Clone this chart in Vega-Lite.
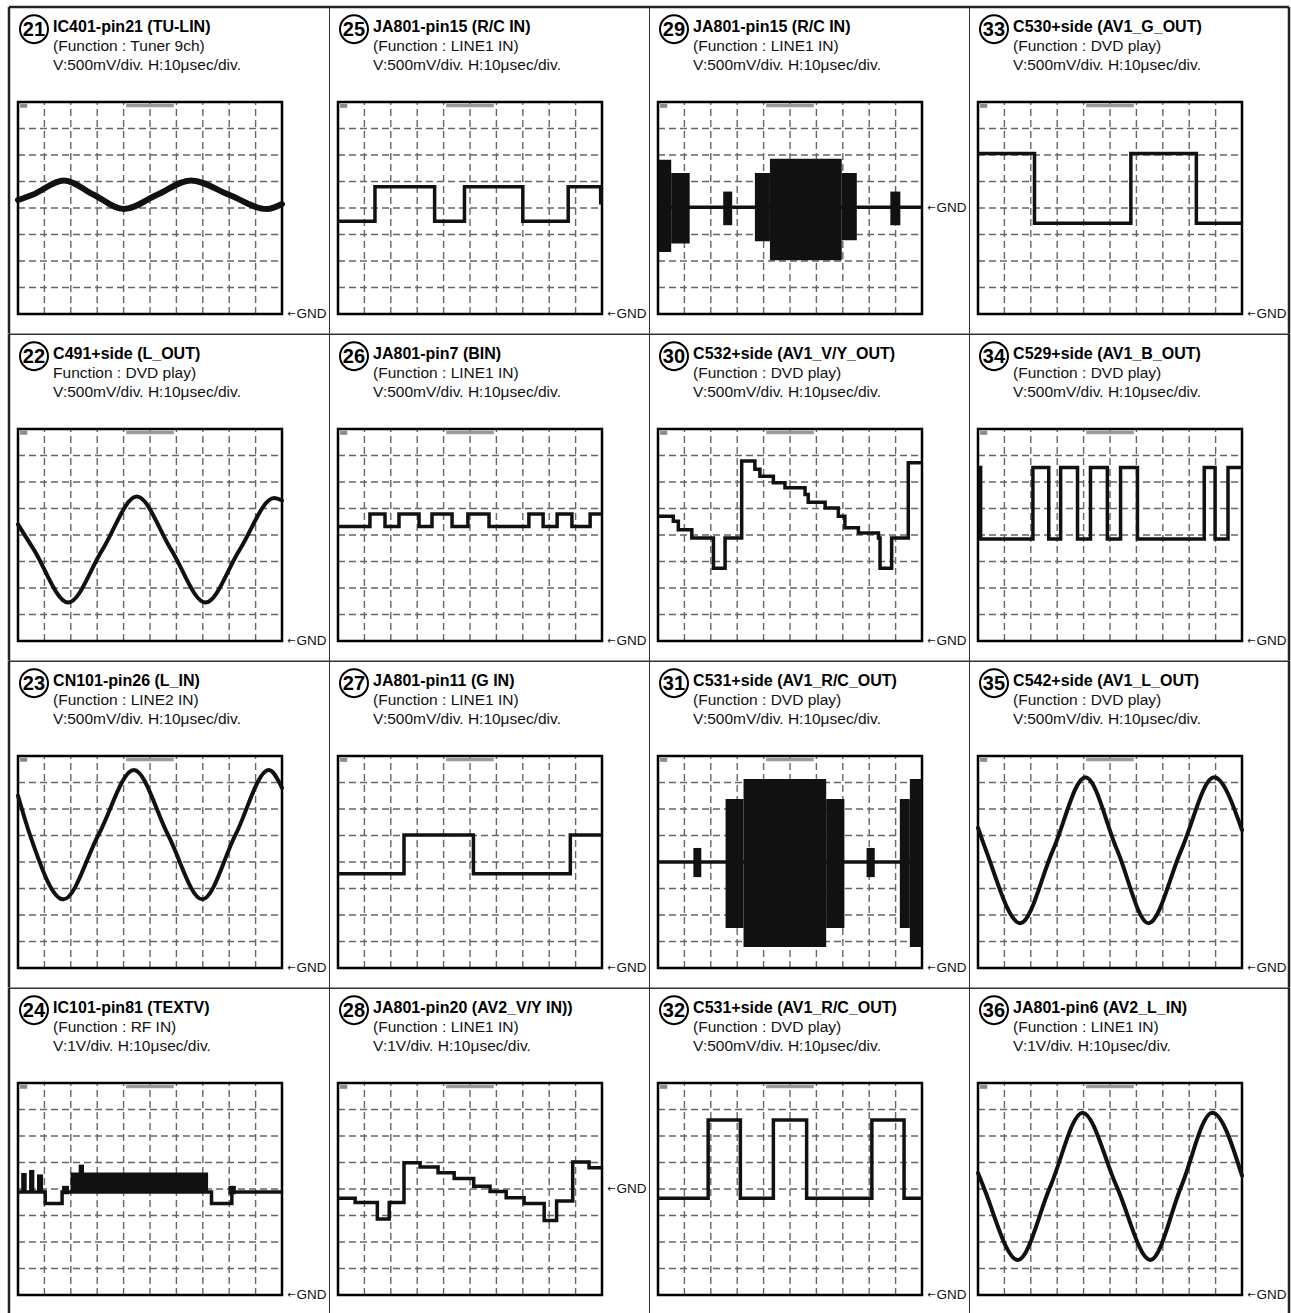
{
"$schema":"https://vega.github.io/schema/vega-lite/v6.json",
"background":"white",
"padding":{"left":5,"top":5,"right":0,"bottom":0},
"bounds":"flush",
"data":{"values":[
{"k":"i","p":21,"n":"21","t1":"IC401-pin21 (TU-LIN)","t2":"(Function : Tuner 9ch)","t3":"V:500mV/div. H:10μsec/div.","g":0},
{"k":"i","p":22,"n":"22","t1":"C491+side (L_OUT)","t2":"Function : DVD play)","t3":"V:500mV/div. H:10μsec/div.","g":0},
{"k":"i","p":23,"n":"23","t1":"CN101-pin26 (L_IN)","t2":"(Function : LINE2 IN)","t3":"V:500mV/div. H:10μsec/div.","g":0},
{"k":"i","p":24,"n":"24","t1":"IC101-pin81 (TEXTV)","t2":"(Function : RF IN)","t3":"V:1V/div. H:10μsec/div.","g":0},
{"k":"i","p":25,"n":"25","t1":"JA801-pin15 (R/C IN)","t2":"(Function : LINE1 IN)","t3":"V:500mV/div. H:10μsec/div.","g":0},
{"k":"i","p":26,"n":"26","t1":"JA801-pin7 (BIN)","t2":"(Function : LINE1 IN)","t3":"V:500mV/div. H:10μsec/div.","g":0},
{"k":"i","p":27,"n":"27","t1":"JA801-pin11 (G IN)","t2":"(Function : LINE1 IN)","t3":"V:500mV/div. H:10μsec/div.","g":0},
{"k":"i","p":28,"n":"28","t1":"JA801-pin20 (AV2_V/Y IN))","t2":"(Function : LINE1 IN)","t3":"V:1V/div. H:10μsec/div.","g":4},
{"k":"i","p":29,"n":"29","t1":"JA801-pin15 (R/C IN)","t2":"(Function : LINE1 IN)","t3":"V:500mV/div. H:10μsec/div.","g":4},
{"k":"i","p":30,"n":"30","t1":"C532+side (AV1_V/Y_OUT)","t2":"(Function : DVD play)","t3":"V:500mV/div. H:10μsec/div.","g":0},
{"k":"i","p":31,"n":"31","t1":"C531+side (AV1_R/C_OUT)","t2":"(Function : DVD play)","t3":"V:500mV/div. H:10μsec/div.","g":0},
{"k":"i","p":32,"n":"32","t1":"C531+side (AV1_R/C_OUT)","t2":"(Function : DVD play)","t3":"V:500mV/div. H:10μsec/div.","g":0},
{"k":"i","p":33,"n":"33","t1":"C530+side (AV1_G_OUT)","t2":"(Function : DVD play)","t3":"V:500mV/div. H:10μsec/div.","g":0},
{"k":"i","p":34,"n":"34","t1":"C529+side (AV1_B_OUT)","t2":"(Function : DVD play)","t3":"V:500mV/div. H:10μsec/div.","g":0},
{"k":"i","p":35,"n":"35","t1":"C542+side (AV1_L_OUT)","t2":"(Function : DVD play)","t3":"V:500mV/div. H:10μsec/div.","g":0},
{"k":"i","p":36,"n":"36","t1":"JA801-pin6 (AV2_L_IN)","t2":"(Function : LINE1 IN)","t3":"V:1V/div. H:10μsec/div.","g":0},

{"k":"s","p":21,"x":0,"y":4.3},{"k":"s","p":21,"x":0.55,"y":4.5},{"k":"s","p":21,"x":1.74,"y":5.04},{"k":"s","p":21,"x":2.87,"y":4.5},{"k":"s","p":21,"x":4.0,"y":3.96},{"k":"s","p":21,"x":5.27,"y":4.5},{"k":"s","p":21,"x":6.55,"y":5.04},{"k":"s","p":21,"x":7.99,"y":4.5},{"k":"s","p":21,"x":9.43,"y":3.96},{"k":"s","p":21,"x":10,"y":4.15},
{"k":"s","p":22,"x":0,"y":4.4},{"k":"s","p":22,"x":0.6,"y":3.45},{"k":"s","p":22,"x":1.9,"y":1.45},{"k":"s","p":22,"x":3.2,"y":3.45},{"k":"s","p":22,"x":4.5,"y":5.45},{"k":"s","p":22,"x":5.8,"y":3.45},{"k":"s","p":22,"x":7.1,"y":1.45},{"k":"s","p":22,"x":8.4,"y":3.45},{"k":"s","p":22,"x":9.7,"y":5.4},{"k":"s","p":22,"x":10,"y":5.3},
{"k":"s","p":23,"x":0,"y":6.5},{"k":"s","p":23,"x":0.45,"y":5.03},{"k":"s","p":23,"x":1.72,"y":2.59},{"k":"s","p":23,"x":3.05,"y":5.03},{"k":"s","p":23,"x":4.39,"y":7.47},{"k":"s","p":23,"x":5.68,"y":5.03},{"k":"s","p":23,"x":6.98,"y":2.59},{"k":"s","p":23,"x":8.24,"y":5.03},{"k":"s","p":23,"x":9.5,"y":7.47},{"k":"s","p":23,"x":10,"y":6.8},
{"k":"s","p":35,"x":0,"y":5.29},{"k":"s","p":35,"x":0.3,"y":4.45},{"k":"s","p":35,"x":1.6,"y":1.69},{"k":"s","p":35,"x":2.84,"y":4.45},{"k":"s","p":35,"x":4.07,"y":7.2},{"k":"s","p":35,"x":5.27,"y":4.45},{"k":"s","p":35,"x":6.46,"y":1.69},{"k":"s","p":35,"x":7.7,"y":4.45},{"k":"s","p":35,"x":8.94,"y":7.2},{"k":"s","p":35,"x":10,"y":5.2},
{"k":"s","p":36,"x":0,"y":4.6},{"k":"s","p":36,"x":0.2,"y":4.1},{"k":"s","p":36,"x":1.51,"y":1.32},{"k":"s","p":36,"x":2.74,"y":4.1},{"k":"s","p":36,"x":3.96,"y":6.88},{"k":"s","p":36,"x":5.25,"y":4.1},{"k":"s","p":36,"x":6.53,"y":1.32},{"k":"s","p":36,"x":7.7,"y":4.1},{"k":"s","p":36,"x":8.87,"y":6.88},{"k":"s","p":36,"x":10,"y":4.5},

{"k":"t","p":24,"x":0,"y":3.89},{"k":"t","p":24,"x":1.03,"y":3.45},{"k":"t","p":24,"x":1.67,"y":3.89},{"k":"t","p":24,"x":7.33,"y":3.45},{"k":"t","p":24,"x":8.1,"y":3.89},{"k":"t","p":24,"x":10,"y":3.89},
{"k":"t","p":25,"x":0,"y":3.5},{"k":"t","p":25,"x":1.4,"y":4.8},{"k":"t","p":25,"x":3.66,"y":3.5},{"k":"t","p":25,"x":4.79,"y":4.8},{"k":"t","p":25,"x":7.0,"y":3.5},{"k":"t","p":25,"x":8.72,"y":4.8},{"k":"t","p":25,"x":9.95,"y":4.2},{"k":"t","p":25,"x":10,"y":4.2},
{"k":"t","p":26,"x":0,"y":4.32},{"k":"t","p":26,"x":1.21,"y":4.79},{"k":"t","p":26,"x":1.78,"y":4.32},{"k":"t","p":26,"x":2.31,"y":4.79},{"k":"t","p":26,"x":3.07,"y":4.32},{"k":"t","p":26,"x":3.56,"y":4.79},{"k":"t","p":26,"x":4.32,"y":4.32},{"k":"t","p":26,"x":4.92,"y":4.79},{"k":"t","p":26,"x":5.72,"y":4.32},{"k":"t","p":26,"x":7.23,"y":4.79},{"k":"t","p":26,"x":7.77,"y":4.32},{"k":"t","p":26,"x":8.3,"y":4.79},{"k":"t","p":26,"x":8.86,"y":4.32},{"k":"t","p":26,"x":9.55,"y":4.79},{"k":"t","p":26,"x":10,"y":4.79},
{"k":"t","p":27,"x":0,"y":3.56},{"k":"t","p":27,"x":2.5,"y":5.02},{"k":"t","p":27,"x":5.13,"y":3.56},{"k":"t","p":27,"x":8.8,"y":5.02},{"k":"t","p":27,"x":10,"y":5.02},
{"k":"t","p":28,"x":0,"y":3.65},{"k":"t","p":28,"x":0.65,"y":3.49},{"k":"t","p":28,"x":1.49,"y":2.87},{"k":"t","p":28,"x":1.94,"y":3.49},{"k":"t","p":28,"x":2.5,"y":4.99},{"k":"t","p":28,"x":3.11,"y":4.83},{"k":"t","p":28,"x":3.79,"y":4.61},{"k":"t","p":28,"x":4.4,"y":4.4},{"k":"t","p":28,"x":5.14,"y":4.1},{"k":"t","p":28,"x":5.76,"y":3.91},{"k":"t","p":28,"x":6.37,"y":3.67},{"k":"t","p":28,"x":7.05,"y":3.45},{"k":"t","p":28,"x":7.81,"y":2.81},{"k":"t","p":28,"x":8.28,"y":3.55},{"k":"t","p":28,"x":8.89,"y":5.02},{"k":"t","p":28,"x":9.51,"y":4.8},{"k":"t","p":28,"x":10,"y":4.8},
{"k":"t","p":29,"x":0,"y":4.03},{"k":"t","p":29,"x":10,"y":4.03},
{"k":"t","p":30,"x":0,"y":4.71},{"k":"t","p":30,"x":0.58,"y":4.52},{"k":"t","p":30,"x":0.77,"y":4.2},{"k":"t","p":30,"x":1.28,"y":3.89},{"k":"t","p":30,"x":2.1,"y":2.75},{"k":"t","p":30,"x":2.54,"y":3.89},{"k":"t","p":30,"x":3.17,"y":6.79},{"k":"t","p":30,"x":3.67,"y":6.48},{"k":"t","p":30,"x":3.86,"y":6.22},{"k":"t","p":30,"x":4.37,"y":5.97},{"k":"t","p":30,"x":4.81,"y":5.78},{"k":"t","p":30,"x":5.57,"y":5.53},{"k":"t","p":30,"x":5.69,"y":5.24},{"k":"t","p":30,"x":6.33,"y":5.02},{"k":"t","p":30,"x":6.83,"y":4.71},{"k":"t","p":30,"x":7.08,"y":4.27},{"k":"t","p":30,"x":7.59,"y":4.08},{"k":"t","p":30,"x":8.35,"y":3.89},{"k":"t","p":30,"x":8.41,"y":2.75},{"k":"t","p":30,"x":8.85,"y":3.89},{"k":"t","p":30,"x":9.48,"y":6.73},{"k":"t","p":30,"x":10,"y":6.73},
{"k":"t","p":31,"x":0,"y":4.0},{"k":"t","p":31,"x":10,"y":4.0},
{"k":"t","p":32,"x":0,"y":3.65},{"k":"t","p":32,"x":1.9,"y":6.6},{"k":"t","p":32,"x":3.12,"y":3.65},{"k":"t","p":32,"x":4.37,"y":6.6},{"k":"t","p":32,"x":5.63,"y":3.65},{"k":"t","p":32,"x":8.1,"y":6.6},{"k":"t","p":32,"x":9.32,"y":3.65},{"k":"t","p":32,"x":10,"y":3.65},
{"k":"t","p":33,"x":0,"y":6.06},{"k":"t","p":33,"x":2.14,"y":3.42},{"k":"t","p":33,"x":5.79,"y":6.06},{"k":"t","p":33,"x":8.27,"y":3.42},{"k":"t","p":33,"x":10,"y":3.42},
{"k":"t","p":34,"x":0,"y":6.55},{"k":"t","p":34,"x":0.1,"y":3.85},{"k":"t","p":34,"x":2.08,"y":6.55},{"k":"t","p":34,"x":2.68,"y":3.85},{"k":"t","p":34,"x":3.13,"y":6.55},{"k":"t","p":34,"x":3.77,"y":3.85},{"k":"t","p":34,"x":4.26,"y":6.55},{"k":"t","p":34,"x":4.9,"y":3.85},{"k":"t","p":34,"x":5.4,"y":6.55},{"k":"t","p":34,"x":6.04,"y":3.85},{"k":"t","p":34,"x":8.57,"y":6.55},{"k":"t","p":34,"x":8.98,"y":3.85},{"k":"t","p":34,"x":9.47,"y":6.55},{"k":"t","p":34,"x":10,"y":6.55},

{"k":"b","p":29,"x":0.03,"x2":0.5,"y":2.34,"y2":5.82},{"k":"b","p":29,"x":0.5,"x2":1.2,"y":2.66,"y2":5.32},{"k":"b","p":29,"x":2.47,"x2":2.81,"y":3.35,"y2":4.62},{"k":"b","p":29,"x":3.67,"x2":4.24,"y":2.75,"y2":5.32},{"k":"b","p":29,"x":4.24,"x2":6.96,"y":2.03,"y2":5.86},{"k":"b","p":29,"x":6.96,"x2":7.53,"y":2.78,"y2":5.32},{"k":"b","p":29,"x":8.8,"x2":9.18,"y":3.35,"y2":4.62},
{"k":"b","p":31,"x":1.34,"x2":1.64,"y":3.43,"y2":4.53},{"k":"b","p":31,"x":2.56,"x2":3.24,"y":1.51,"y2":6.38},{"k":"b","p":31,"x":3.24,"x2":6.37,"y":0.79,"y2":7.13},{"k":"b","p":31,"x":6.37,"x2":7.06,"y":1.51,"y2":6.38},{"k":"b","p":31,"x":7.9,"x2":8.21,"y":3.43,"y2":4.53},{"k":"b","p":31,"x":9.16,"x2":9.54,"y":1.51,"y2":6.38},{"k":"b","p":31,"x":9.54,"x2":10,"y":0.79,"y2":7.13},
{"k":"b","p":24,"x":0.12,"x2":0.33,"y":3.89,"y2":4.6},{"k":"b","p":24,"x":0.42,"x2":0.62,"y":3.89,"y2":4.72},{"k":"b","p":24,"x":0.72,"x2":0.95,"y":3.89,"y2":4.55},{"k":"b","p":24,"x":1.67,"x2":1.93,"y":3.8,"y2":4.12},{"k":"b","p":24,"x":1.99,"x2":7.2,"y":3.89,"y2":4.62},{"k":"b","p":24,"x":2.3,"x2":2.5,"y":3.89,"y2":4.92},{"k":"b","p":24,"x":7.97,"x2":8.25,"y":3.8,"y2":4.12}
]},
"transform":[{"calculate":"(datum.p-21)%4+1","as":"r"},{"calculate":"floor((datum.p-21)/4)+1","as":"c"}],
"facet":{"row":{"field":"r","type":"ordinal","header":null},"column":{"field":"c","type":"ordinal","header":null}},
"spacing":{"row":0,"column":0},
"spec":{"width":320,"height":326.5,"layer":[
{"transform":[{"filter":"datum.k=='i'"}],"mark":{"type":"rule","stroke":"#666","strokeWidth":1.4,"strokeDash":[7,4]},"encoding":{"x":{"datum":1,"type":"quantitative","scale":{"domain":[-0.3409,11.78],"nice":false,"zero":false},"axis":null},"y":{"datum":0,"type":"quantitative","scale":{"domain":[-0.7358,11.585],"nice":false,"zero":false},"axis":null},"y2":{"datum":8}}},
{"transform":[{"filter":"datum.k=='i'"}],"mark":{"type":"rule","stroke":"#666","strokeWidth":1.4,"strokeDash":[7,4]},"encoding":{"x":{"datum":2,"type":"quantitative","scale":{"domain":[-0.3409,11.78],"nice":false,"zero":false},"axis":null},"y":{"datum":0,"type":"quantitative","scale":{"domain":[-0.7358,11.585],"nice":false,"zero":false},"axis":null},"y2":{"datum":8}}},
{"transform":[{"filter":"datum.k=='i'"}],"mark":{"type":"rule","stroke":"#666","strokeWidth":1.4,"strokeDash":[7,4]},"encoding":{"x":{"datum":3,"type":"quantitative","scale":{"domain":[-0.3409,11.78],"nice":false,"zero":false},"axis":null},"y":{"datum":0,"type":"quantitative","scale":{"domain":[-0.7358,11.585],"nice":false,"zero":false},"axis":null},"y2":{"datum":8}}},
{"transform":[{"filter":"datum.k=='i'"}],"mark":{"type":"rule","stroke":"#666","strokeWidth":1.4,"strokeDash":[7,4]},"encoding":{"x":{"datum":4,"type":"quantitative","scale":{"domain":[-0.3409,11.78],"nice":false,"zero":false},"axis":null},"y":{"datum":0,"type":"quantitative","scale":{"domain":[-0.7358,11.585],"nice":false,"zero":false},"axis":null},"y2":{"datum":8}}},
{"transform":[{"filter":"datum.k=='i'"}],"mark":{"type":"rule","stroke":"#666","strokeWidth":1.4,"strokeDash":[7,4]},"encoding":{"x":{"datum":5,"type":"quantitative","scale":{"domain":[-0.3409,11.78],"nice":false,"zero":false},"axis":null},"y":{"datum":0,"type":"quantitative","scale":{"domain":[-0.7358,11.585],"nice":false,"zero":false},"axis":null},"y2":{"datum":8}}},
{"transform":[{"filter":"datum.k=='i'"}],"mark":{"type":"rule","stroke":"#666","strokeWidth":1.4,"strokeDash":[7,4]},"encoding":{"x":{"datum":6,"type":"quantitative","scale":{"domain":[-0.3409,11.78],"nice":false,"zero":false},"axis":null},"y":{"datum":0,"type":"quantitative","scale":{"domain":[-0.7358,11.585],"nice":false,"zero":false},"axis":null},"y2":{"datum":8}}},
{"transform":[{"filter":"datum.k=='i'"}],"mark":{"type":"rule","stroke":"#666","strokeWidth":1.4,"strokeDash":[7,4]},"encoding":{"x":{"datum":7,"type":"quantitative","scale":{"domain":[-0.3409,11.78],"nice":false,"zero":false},"axis":null},"y":{"datum":0,"type":"quantitative","scale":{"domain":[-0.7358,11.585],"nice":false,"zero":false},"axis":null},"y2":{"datum":8}}},
{"transform":[{"filter":"datum.k=='i'"}],"mark":{"type":"rule","stroke":"#666","strokeWidth":1.4,"strokeDash":[7,4]},"encoding":{"x":{"datum":8,"type":"quantitative","scale":{"domain":[-0.3409,11.78],"nice":false,"zero":false},"axis":null},"y":{"datum":0,"type":"quantitative","scale":{"domain":[-0.7358,11.585],"nice":false,"zero":false},"axis":null},"y2":{"datum":8}}},
{"transform":[{"filter":"datum.k=='i'"}],"mark":{"type":"rule","stroke":"#666","strokeWidth":1.4,"strokeDash":[7,4]},"encoding":{"x":{"datum":9,"type":"quantitative","scale":{"domain":[-0.3409,11.78],"nice":false,"zero":false},"axis":null},"y":{"datum":0,"type":"quantitative","scale":{"domain":[-0.7358,11.585],"nice":false,"zero":false},"axis":null},"y2":{"datum":8}}},
{"transform":[{"filter":"datum.k=='i'"}],"mark":{"type":"rule","stroke":"#666","strokeWidth":1.4,"strokeDash":[7,4]},"encoding":{"y":{"datum":1,"type":"quantitative","scale":{"domain":[-0.7358,11.585],"nice":false,"zero":false},"axis":null},"x":{"datum":0,"type":"quantitative","scale":{"domain":[-0.3409,11.78],"nice":false,"zero":false},"axis":null},"x2":{"datum":10}}},
{"transform":[{"filter":"datum.k=='i'"}],"mark":{"type":"rule","stroke":"#666","strokeWidth":1.4,"strokeDash":[7,4]},"encoding":{"y":{"datum":2,"type":"quantitative","scale":{"domain":[-0.7358,11.585],"nice":false,"zero":false},"axis":null},"x":{"datum":0,"type":"quantitative","scale":{"domain":[-0.3409,11.78],"nice":false,"zero":false},"axis":null},"x2":{"datum":10}}},
{"transform":[{"filter":"datum.k=='i'"}],"mark":{"type":"rule","stroke":"#666","strokeWidth":1.4,"strokeDash":[7,4]},"encoding":{"y":{"datum":3,"type":"quantitative","scale":{"domain":[-0.7358,11.585],"nice":false,"zero":false},"axis":null},"x":{"datum":0,"type":"quantitative","scale":{"domain":[-0.3409,11.78],"nice":false,"zero":false},"axis":null},"x2":{"datum":10}}},
{"transform":[{"filter":"datum.k=='i'"}],"mark":{"type":"rule","stroke":"#666","strokeWidth":1.4,"strokeDash":[7,4]},"encoding":{"y":{"datum":4,"type":"quantitative","scale":{"domain":[-0.7358,11.585],"nice":false,"zero":false},"axis":null},"x":{"datum":0,"type":"quantitative","scale":{"domain":[-0.3409,11.78],"nice":false,"zero":false},"axis":null},"x2":{"datum":10}}},
{"transform":[{"filter":"datum.k=='i'"}],"mark":{"type":"rule","stroke":"#666","strokeWidth":1.4,"strokeDash":[7,4]},"encoding":{"y":{"datum":5,"type":"quantitative","scale":{"domain":[-0.7358,11.585],"nice":false,"zero":false},"axis":null},"x":{"datum":0,"type":"quantitative","scale":{"domain":[-0.3409,11.78],"nice":false,"zero":false},"axis":null},"x2":{"datum":10}}},
{"transform":[{"filter":"datum.k=='i'"}],"mark":{"type":"rule","stroke":"#666","strokeWidth":1.4,"strokeDash":[7,4]},"encoding":{"y":{"datum":6,"type":"quantitative","scale":{"domain":[-0.7358,11.585],"nice":false,"zero":false},"axis":null},"x":{"datum":0,"type":"quantitative","scale":{"domain":[-0.3409,11.78],"nice":false,"zero":false},"axis":null},"x2":{"datum":10}}},
{"transform":[{"filter":"datum.k=='i'"}],"mark":{"type":"rule","stroke":"#666","strokeWidth":1.4,"strokeDash":[7,4]},"encoding":{"y":{"datum":7,"type":"quantitative","scale":{"domain":[-0.7358,11.585],"nice":false,"zero":false},"axis":null},"x":{"datum":0,"type":"quantitative","scale":{"domain":[-0.3409,11.78],"nice":false,"zero":false},"axis":null},"x2":{"datum":10}}},
{"transform":[{"filter":"datum.k=='i'"}],"mark":{"type":"rect","fill":"#8a8a8a"},"encoding":{"x":{"datum":0.08,"type":"quantitative","scale":{"domain":[-0.3409,11.78],"nice":false,"zero":false},"axis":null},"x2":{"datum":0.35},"y":{"datum":7.78,"type":"quantitative","scale":{"domain":[-0.7358,11.585],"nice":false,"zero":false},"axis":null},"y2":{"datum":7.93}}},
{"transform":[{"filter":"datum.k=='i'"}],"mark":{"type":"rect","fill":"#9a9a9a"},"encoding":{"x":{"datum":4.1,"type":"quantitative","scale":{"domain":[-0.3409,11.78],"nice":false,"zero":false},"axis":null},"x2":{"datum":5.9},"y":{"datum":7.8,"type":"quantitative","scale":{"domain":[-0.7358,11.585],"nice":false,"zero":false},"axis":null},"y2":{"datum":7.92}}},
{"transform":[{"filter":"datum.k=='i'"}],"mark":{"type":"rect","fill":"white","fillOpacity":0,"stroke":"black","strokeWidth":2.5},"encoding":{"x":{"datum":0,"type":"quantitative","scale":{"domain":[-0.3409,11.78],"nice":false,"zero":false},"axis":null},"x2":{"datum":10},"y":{"datum":0,"type":"quantitative","scale":{"domain":[-0.7358,11.585],"nice":false,"zero":false},"axis":null},"y2":{"datum":8}}},
{"transform":[{"filter":"datum.k=='b'"}],"mark":{"type":"rect","fill":"#111"},"encoding":{"x":{"field":"x","type":"quantitative","scale":{"domain":[-0.3409,11.78],"nice":false,"zero":false},"axis":null},"x2":{"field":"x2"},"y":{"field":"y","type":"quantitative","scale":{"domain":[-0.7358,11.585],"nice":false,"zero":false},"axis":null},"y2":{"field":"y2"}}},
{"transform":[{"filter":"datum.k=='s'"}],"mark":{"type":"line","interpolate":"monotone","stroke":"#111","strokeCap":"round"},"encoding":{"x":{"field":"x","type":"quantitative","scale":{"domain":[-0.3409,11.78],"nice":false,"zero":false},"axis":null},"y":{"field":"y","type":"quantitative","scale":{"domain":[-0.7358,11.585],"nice":false,"zero":false},"axis":null},"strokeWidth":{"condition":{"test":"datum.p==21","value":6},"value":4}}},
{"transform":[{"filter":"datum.k=='t'"}],"mark":{"type":"line","interpolate":"step-after","stroke":"#111","strokeWidth":3.5},"encoding":{"x":{"field":"x","type":"quantitative","scale":{"domain":[-0.3409,11.78],"nice":false,"zero":false},"axis":null},"y":{"field":"y","type":"quantitative","scale":{"domain":[-0.7358,11.585],"nice":false,"zero":false},"axis":null}}},
{"transform":[{"filter":"datum.k=='i'"}],"mark":{"type":"point","shape":"circle","size":784,"filled":false,"stroke":"black","strokeWidth":2,"opacity":1},"encoding":{"x":{"datum":0.606,"type":"quantitative","scale":{"domain":[-0.3409,11.78],"nice":false,"zero":false},"axis":null},"y":{"datum":10.75,"type":"quantitative","scale":{"domain":[-0.7358,11.585],"nice":false,"zero":false},"axis":null}}},
{"transform":[{"filter":"datum.k=='i'"}],"mark":{"type":"text","align":"center","baseline":"middle","font":"Liberation Sans","fontSize":20,"fontWeight":"bold","color":"black","dy":1},"encoding":{"x":{"datum":0.606,"type":"quantitative","scale":{"domain":[-0.3409,11.78],"nice":false,"zero":false},"axis":null},"y":{"datum":10.75,"type":"quantitative","scale":{"domain":[-0.7358,11.585],"nice":false,"zero":false},"axis":null},"text":{"field":"n"}}},
{"transform":[{"filter":"datum.k=='i'"}],"mark":{"type":"text","align":"left","baseline":"middle","font":"Liberation Sans","fontSize":16,"fontWeight":"bold","color":"black"},"encoding":{"x":{"datum":1.33,"type":"quantitative","scale":{"domain":[-0.3409,11.78],"nice":false,"zero":false},"axis":null},"y":{"datum":10.83,"type":"quantitative","scale":{"domain":[-0.7358,11.585],"nice":false,"zero":false},"axis":null},"text":{"field":"t1"}}},
{"transform":[{"filter":"datum.k=='i'"}],"mark":{"type":"text","align":"left","baseline":"middle","font":"Liberation Sans","fontSize":15.5,"color":"#111"},"encoding":{"x":{"datum":1.33,"type":"quantitative","scale":{"domain":[-0.3409,11.78],"nice":false,"zero":false},"axis":null},"y":{"datum":10.11,"type":"quantitative","scale":{"domain":[-0.7358,11.585],"nice":false,"zero":false},"axis":null},"text":{"field":"t2"}}},
{"transform":[{"filter":"datum.k=='i'"}],"mark":{"type":"text","align":"left","baseline":"middle","font":"Liberation Sans","fontSize":15.5,"color":"#111"},"encoding":{"x":{"datum":1.33,"type":"quantitative","scale":{"domain":[-0.3409,11.78],"nice":false,"zero":false},"axis":null},"y":{"datum":9.4,"type":"quantitative","scale":{"domain":[-0.7358,11.585],"nice":false,"zero":false},"axis":null},"text":{"field":"t3"}}},
{"transform":[{"filter":"datum.k=='i'"}],"mark":{"type":"text","align":"right","baseline":"middle","font":"DejaVu Sans","fontSize":10,"color":"#111","text":"←"},"encoding":{"x":{"datum":10.52,"type":"quantitative","scale":{"domain":[-0.3409,11.78],"nice":false,"zero":false},"axis":null},"y":{"field":"g","type":"quantitative","scale":{"domain":[-0.7358,11.585],"nice":false,"zero":false},"axis":null}}},
{"transform":[{"filter":"datum.k=='i'"}],"mark":{"type":"text","align":"left","baseline":"middle","font":"Liberation Sans","fontSize":13.5,"color":"#111","text":"GND"},"encoding":{"x":{"datum":10.55,"type":"quantitative","scale":{"domain":[-0.3409,11.78],"nice":false,"zero":false},"axis":null},"y":{"field":"g","type":"quantitative","scale":{"domain":[-0.7358,11.585],"nice":false,"zero":false},"axis":null}}},
{"transform":[{"filter":"datum.k=='i' && datum.c==1"}],"mark":{"type":"rule","stroke":"#222","strokeWidth":2.5},"encoding":{"x":{"datum":-0.3409,"type":"quantitative","scale":{"domain":[-0.3409,11.78],"nice":false,"zero":false},"axis":null},"y":{"datum":-0.7358,"type":"quantitative","scale":{"domain":[-0.7358,11.585],"nice":false,"zero":false},"axis":null},"y2":{"datum":11.585}}},
{"transform":[{"filter":"datum.k=='i' && datum.c==4"}],"mark":{"type":"rule","stroke":"#222","strokeWidth":2.5},"encoding":{"x":{"datum":11.78,"type":"quantitative","scale":{"domain":[-0.3409,11.78],"nice":false,"zero":false},"axis":null},"y":{"datum":-0.7358,"type":"quantitative","scale":{"domain":[-0.7358,11.585],"nice":false,"zero":false},"axis":null},"y2":{"datum":11.585}}},
{"transform":[{"filter":"datum.k=='i' && datum.r==1"}],"mark":{"type":"rule","stroke":"#222","strokeWidth":2.5},"encoding":{"y":{"datum":11.585,"type":"quantitative","scale":{"domain":[-0.7358,11.585],"nice":false,"zero":false},"axis":null},"x":{"datum":-0.3409,"type":"quantitative","scale":{"domain":[-0.3409,11.78],"nice":false,"zero":false},"axis":null},"x2":{"datum":11.78}}},
{"transform":[{"filter":"datum.k=='i' && datum.r==4"}],"mark":{"type":"rule","stroke":"#222","strokeWidth":2.5},"encoding":{"y":{"datum":-0.7358,"type":"quantitative","scale":{"domain":[-0.7358,11.585],"nice":false,"zero":false},"axis":null},"x":{"datum":-0.3409,"type":"quantitative","scale":{"domain":[-0.3409,11.78],"nice":false,"zero":false},"axis":null},"x2":{"datum":11.78}}}
]},
"config":{"view":{"stroke":"#333","strokeWidth":1},"font":"Liberation Sans"}
}
